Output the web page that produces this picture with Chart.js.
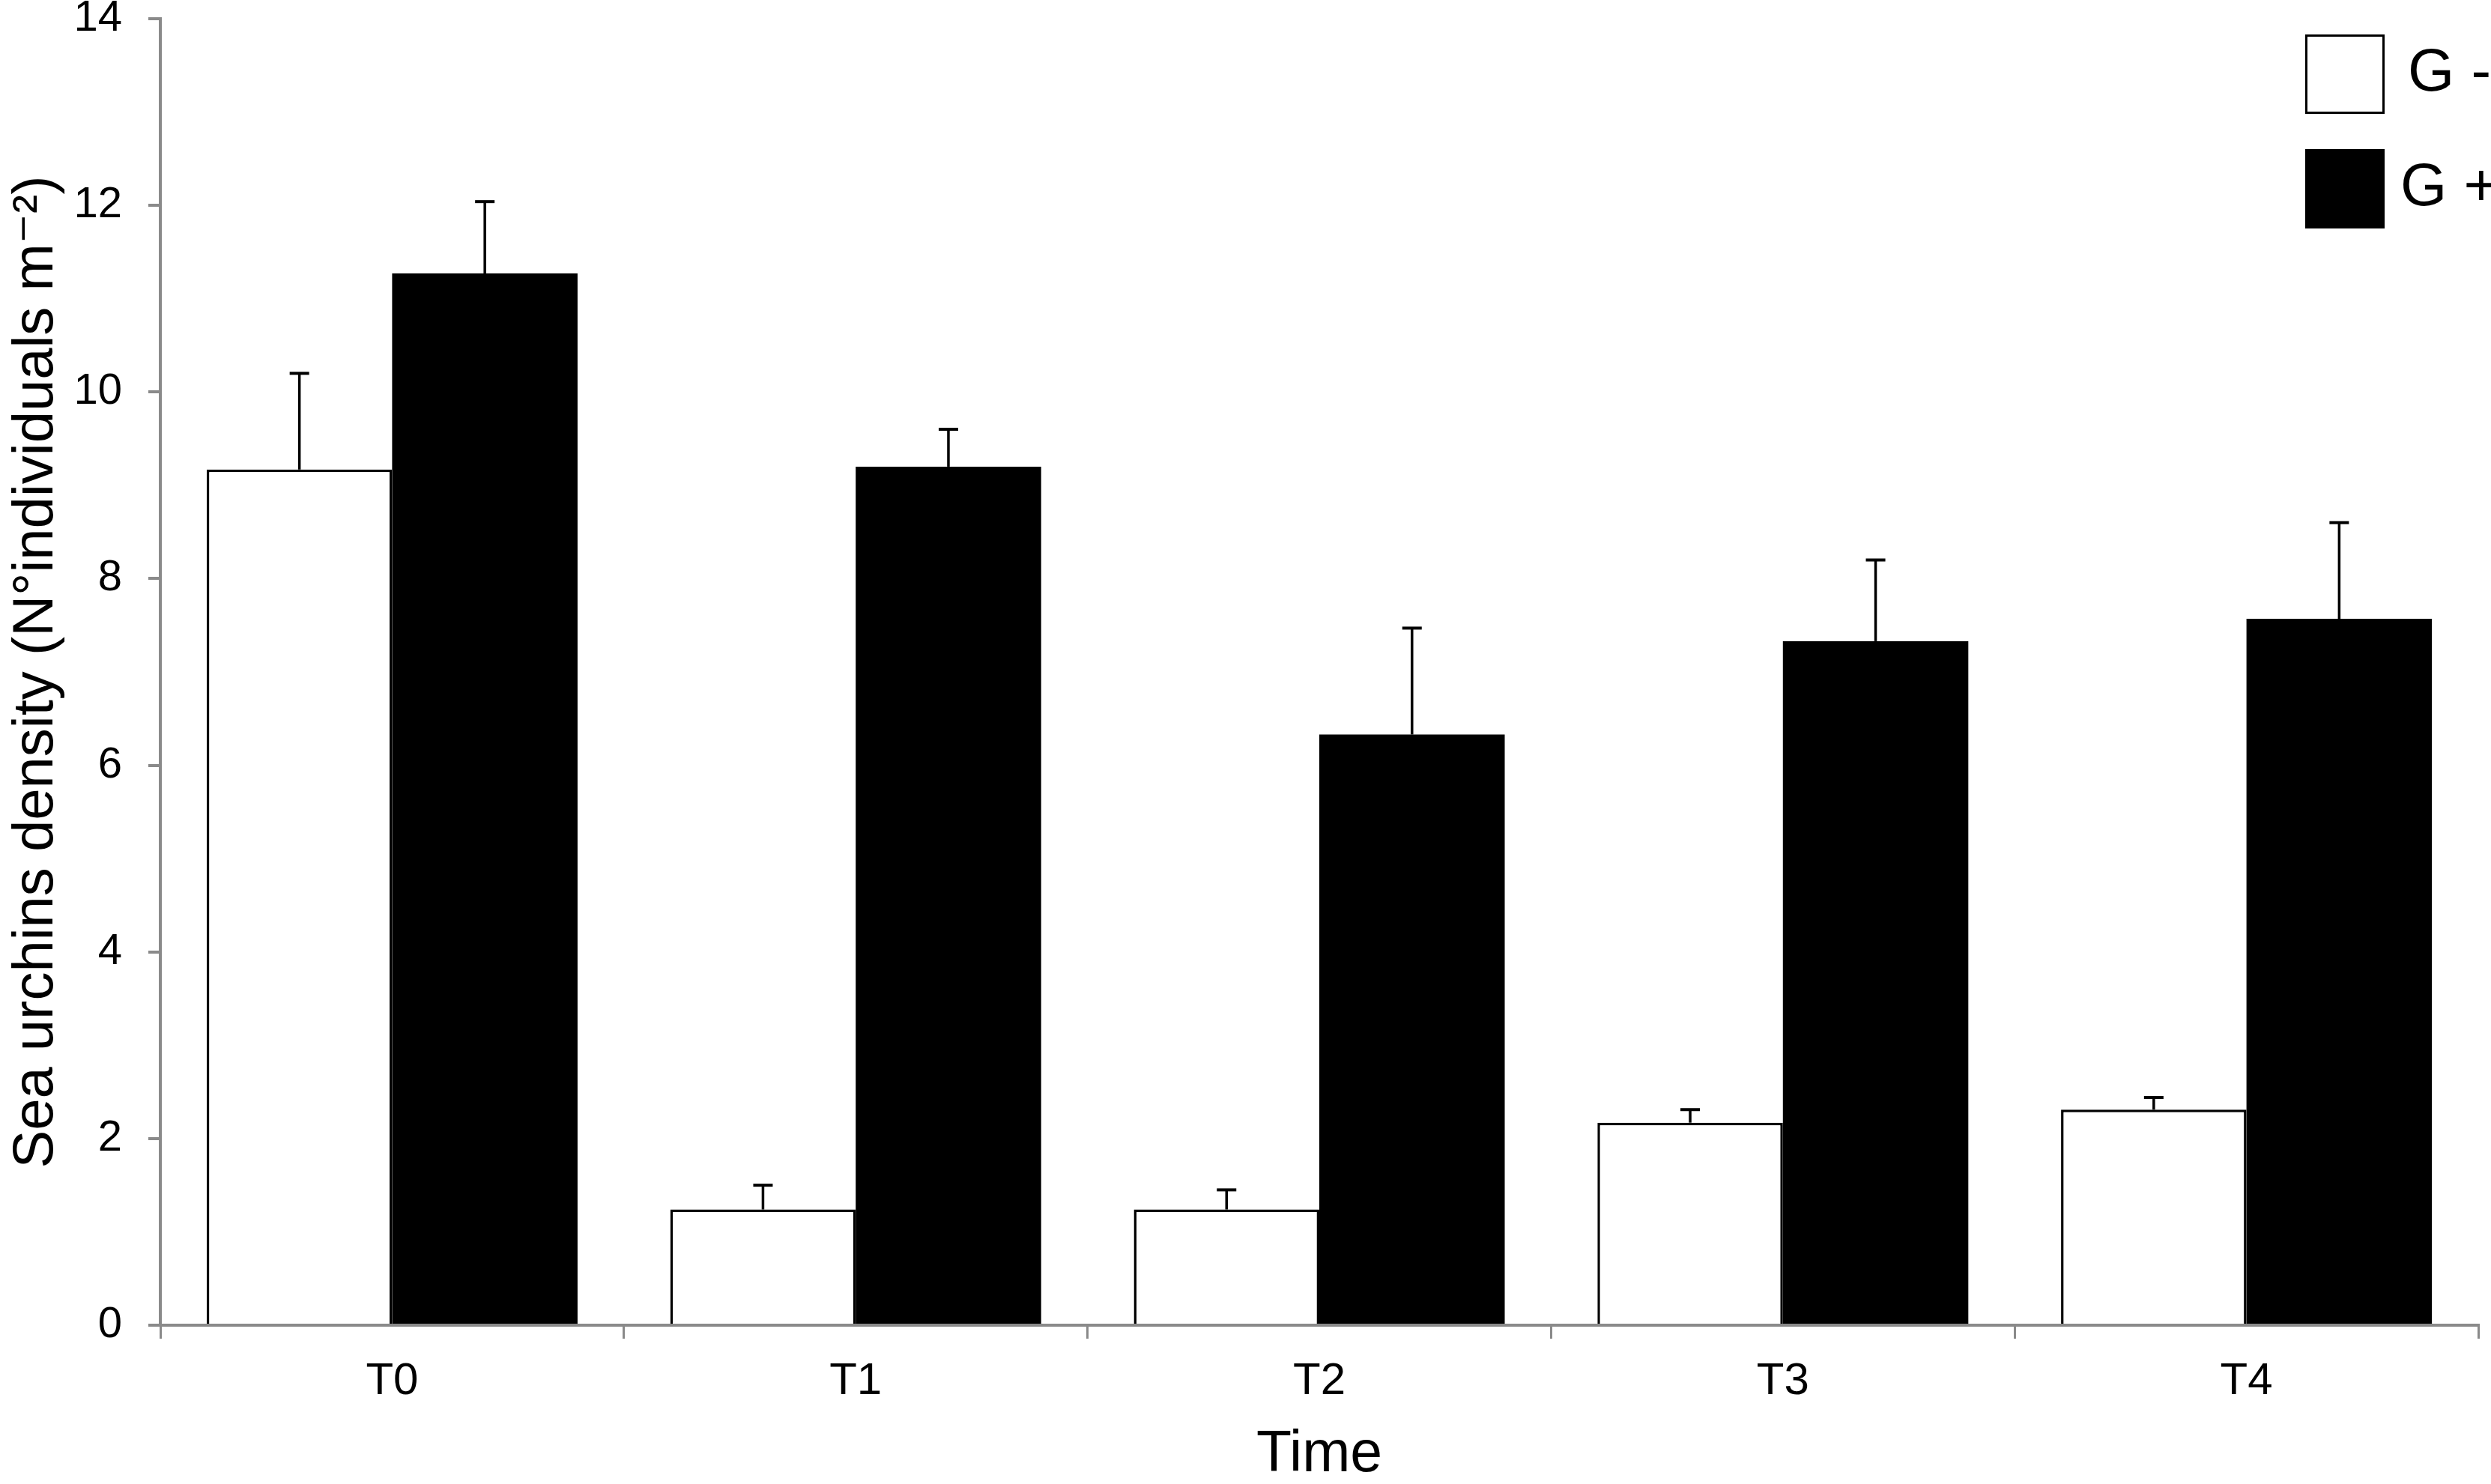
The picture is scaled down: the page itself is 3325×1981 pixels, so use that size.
<!DOCTYPE html>
<html>
<head>
<meta charset="utf-8">
<script src="https://cdn.jsdelivr.net/npm/chart.js@4/dist/chart.umd.min.js"></script>
<style>
  html, body { margin: 0; padding: 0; background: #fff; }
  canvas { display: block; }
</style>
</head>
<body>
<canvas id="chart" width="3325" height="1981"></canvas>
<script>
// values (mean + upper standard error)
const categories = ['T0', 'T1', 'T2', 'T3', 'T4']
const gMinus = [9.17, 1.24, 1.24, 2.17, 2.31]
const gMinusErr = [1.03, 0.26, 0.21, 0.14, 0.13]
const gPlus = [11.27, 9.20, 6.33, 7.33, 7.57]
const gPlusErr = [0.77, 0.40, 1.14, 0.87, 1.03]
const seriesLabels = ['G -', 'G +']
const yMin = 0
const yMax = 14
const yStep = 2

const FONT = '"Liberation Sans", Arial, "DejaVu Sans", sans-serif'
const AXIS_GREY = '#8a8a8a'

// whiskers drawn upwards from the top of every bar
const errorBars = {
  id: 'errorBars',
  afterDatasetsDraw(chart) {
    const ctx = chart.ctx
    const y = chart.scales.y
    ctx.save()
    ctx.strokeStyle = '#000'
    chart.data.datasets.forEach((ds, i) => {
      const meta = chart.getDatasetMeta(i)
      meta.data.forEach((bar, j) => {
        const top = y.getPixelForValue(ds.data[j] + ds.errors[j])
        ctx.lineWidth = 3.5
        ctx.beginPath()
        ctx.moveTo(bar.x, bar.y)
        ctx.lineTo(bar.x, top)
        ctx.stroke()
        ctx.lineWidth = 4
        ctx.beginPath()
        ctx.moveTo(bar.x - 13, top)
        ctx.lineTo(bar.x + 13, top)
        ctx.stroke()
      })
    })
    ctx.restore()
  }
}

// square legend swatches in the top right corner, over the plot
const boxLegend = {
  id: 'boxLegend',
  afterDraw(chart) {
    const ctx = chart.ctx
    const area = chart.chartArea
    const size = 106
    const x = area.right - 231
    ctx.save()
    ctx.font = '80px ' + FONT
    ctx.textBaseline = 'middle'
    ctx.textAlign = 'left'
    chart.data.datasets.forEach((ds, i) => {
      const top = area.top + 21 + i * 153
      ctx.fillStyle = ds.backgroundColor
      ctx.fillRect(x, top, size, size)
      ctx.lineWidth = 3
      ctx.strokeStyle = '#000'
      ctx.strokeRect(x + 1.5, top + 1.5, size - 3, size - 3)
      ctx.fillStyle = '#000'
      ctx.fillText(ds.label, x + size + (i === 0 ? 31 : 21), top + size / 2)
    })
    ctx.restore()
  }
}

new Chart(document.getElementById('chart'), {
  type: 'bar',
  data: {
    labels: categories,
    datasets: [
      {
        label: seriesLabels[0],
        data: gMinus,
        errors: gMinusErr,
        backgroundColor: '#ffffff',
        borderColor: '#000000',
        borderWidth: 3.5,
        borderSkipped: 'start'
      },
      {
        label: seriesLabels[1],
        data: gPlus,
        errors: gPlusErr,
        backgroundColor: '#000000',
        borderColor: '#000000',
        borderWidth: 0
      }
    ]
  },
  options: {
    responsive: false,
    animation: false,
    devicePixelRatio: 1,
    datasets: {
      bar: { categoryPercentage: 0.8, barPercentage: 1.0 }
    },
    layout: {
      padding: { left: 0, right: 17, top: 25, bottom: 0 }
    },
    plugins: {
      legend: { display: false },
      tooltip: { enabled: false },
      title: { display: false }
    },
    scales: {
      x: {
        z: 1,
        grid: {
          offset: true,
          drawOnChartArea: false,
          drawTicks: true,
          tickLength: 18,
          color: AXIS_GREY,
          lineWidth: 3
        },
        border: { display: true, color: AXIS_GREY, width: 4 },
        ticks: {
          color: '#000',
          padding: 21,
          font: { family: FONT, size: 60 }
        },
        title: {
          display: true,
          text: 'Time',
          color: '#000',
          padding: { top: 0, bottom: 0 },
          font: { family: FONT, size: 77, lineHeight: 1 }
        },
        afterFit(scale) {
          scale.height = 212
          scale.paddingLeft = 0
          scale.paddingRight = 0
        }
      },
      y: {
        min: yMin,
        max: yMax,
        grid: {
          drawOnChartArea: false,
          drawTicks: true,
          tickLength: 16,
          color: AXIS_GREY,
          lineWidth: 4
        },
        border: { display: true, color: AXIS_GREY, width: 4 },
        ticks: {
          stepSize: yStep,
          color: '#000',
          padding: 35,
          font: { family: FONT, size: 58 }
        },
        title: {
          display: true,
          text: 'Sea urchins density (N°individuals m⁻²)',
          color: '#000',
          padding: { top: 3, bottom: 0 },
          font: { family: FONT, size: 76 }
        },
        afterFit(scale) {
          scale.width = 214
          scale.paddingTop = 0
          scale.paddingBottom = 0
        }
      }
    }
  },
  plugins: [errorBars, boxLegend]
})
</script>
</body>
</html>
